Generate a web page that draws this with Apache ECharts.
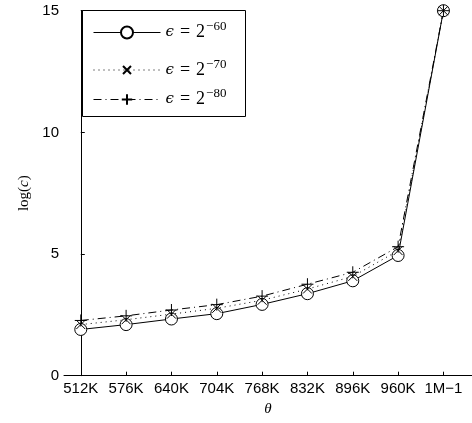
<!DOCTYPE html>
<html><head><meta charset="utf-8">
<script src="https://cdn.jsdelivr.net/npm/echarts@6/dist/echarts.min.js"></script>
<style>html,body{margin:0;padding:0;background:#fff}#c{width:472px;height:423px}</style>
</head><body><div id="c"></div>
<script>
const categories = ['512K','576K','640K','704K','768K','832K','896K','960K','1M\u22121'];
const eps60 = [1.9, 2.1, 2.33, 2.55, 2.93, 3.37, 3.9, 4.94, 15];
const eps70 = [2.1, 2.3, 2.53, 2.77, 3.1, 3.56, 4.08, 5.14, 15];
const eps80 = [2.27, 2.46, 2.7, 2.92, 3.27, 3.76, 4.25, 5.3, 15];
const seriesNames = ['e60','e70','e80'];
const exponents = ['\u221260','\u221270','\u221280'];
const yTicks = [0,5,10,15];

const chart = echarts.init(document.getElementById('c'));
const toPts = arr => arr.map((v,i)=>[i,v]);
const common = {type:'line', showSymbol:true, animation:false};
const legendRich = {
  i:{fontFamily:'DejaVu Serif',fontStyle:'italic',fontSize:15,color:'#000'},
  q:{fontFamily:'Liberation Serif',fontSize:18,color:'#000',padding:[0,6,0,6]},
  t:{fontFamily:'Liberation Serif',fontSize:18,color:'#000'},
  s:{fontFamily:'Liberation Serif',fontSize:13,color:'#000',padding:[0,0,11,1]}
};
const rowCenters = [32, 69.5, 99];
const iconH = [15, 10, 13];
function mkLegend(k){
  return {orient:'vertical',left:93,top:rowCenters[k]-11.5,padding:0,
    itemWidth:67,itemHeight:iconH[k],z:10,
    data:[seriesNames[k]],selectedMode:false,
    lineStyle:{width:1},
    formatter:()=>'{i|\u03f5}{q|=}{t|2}{s|'+exponents[k]+'}',
    textStyle:{color:'#000',rich:legendRich}};
}
chart.setOption({
  animation:false,
  backgroundColor:'#fff',
  grid:{left:64,right:0,top:10.7,bottom:47.3,containLabel:false,outerBoundsMode:'none'},
  graphic:[{type:'rect',z:5,shape:{x:82.5,y:10.5,width:163,height:106},
    style:{fill:'#fff',stroke:'#000',lineWidth:1}}],
  xAxis:{type:'value',min:-0.37,max:8.63,
    name:'\u03b8',nameLocation:'middle',nameGap:21,
    nameTextStyle:{fontFamily:'Liberation Serif',fontStyle:'italic',fontSize:15,color:'#000'},
    axisLine:{show:true,onZero:false,lineStyle:{color:'#000',width:1}},
    axisTick:{show:true,inside:true,length:4,customValues:categories.map((c,i)=>i),lineStyle:{color:'#000'}},
    axisLabel:{customValues:categories.map((c,i)=>i),formatter:v=>categories[Math.round(v)],
      fontFamily:'Liberation Sans',fontSize:15,color:'#000',margin:6},
    splitLine:{show:false}},
  yAxis:{type:'value',min:0,max:15,interval:5,
    name:'{t|log(}{i|c}{t|)}',nameLocation:'middle',nameGap:29,nameRotate:90,
    nameTextStyle:{rich:{t:{fontFamily:'Liberation Serif',fontSize:15,color:'#000'},
                         i:{fontFamily:'Liberation Serif',fontStyle:'italic',fontSize:15,color:'#000'}}},
    axisLine:{show:true,lineStyle:{color:'#000',width:1}},
    axisTick:{show:true,inside:true,length:4,lineStyle:{color:'#000'}},
    axisLabel:{fontFamily:'Liberation Sans',fontSize:15,color:'#000',margin:5,
      formatter:v=>yTicks.includes(v)?String(v):''},
    splitLine:{show:false}},
  legend:[mkLegend(0),mkLegend(1),mkLegend(2)],
  series:[
    Object.assign({},common,{name:seriesNames[0],data:toPts(eps60),symbol:'circle',symbolSize:12,
      lineStyle:{color:'#000',width:1,type:'solid'},
      itemStyle:{color:'#fff',borderColor:'#000',borderWidth:1}}),
    Object.assign({},common,{name:seriesNames[1],data:toPts(eps70),
      symbol:'path://M0,0L10,10M10,0L0,10',symbolSize:9,symbolKeepAspect:true,
      lineStyle:{color:'#000',width:1,type:[1,4]},
      itemStyle:{color:'none',borderColor:'#000',borderWidth:1}}),
    Object.assign({},common,{name:seriesNames[2],data:toPts(eps80),
      symbol:'path://M5,0L5,10M0,5L10,5',symbolSize:12,symbolKeepAspect:true,
      lineStyle:{color:'#000',width:1,type:[8,4,1,4]},
      itemStyle:{color:'none',borderColor:'#000',borderWidth:1}})
  ]
});
</script></body></html>
